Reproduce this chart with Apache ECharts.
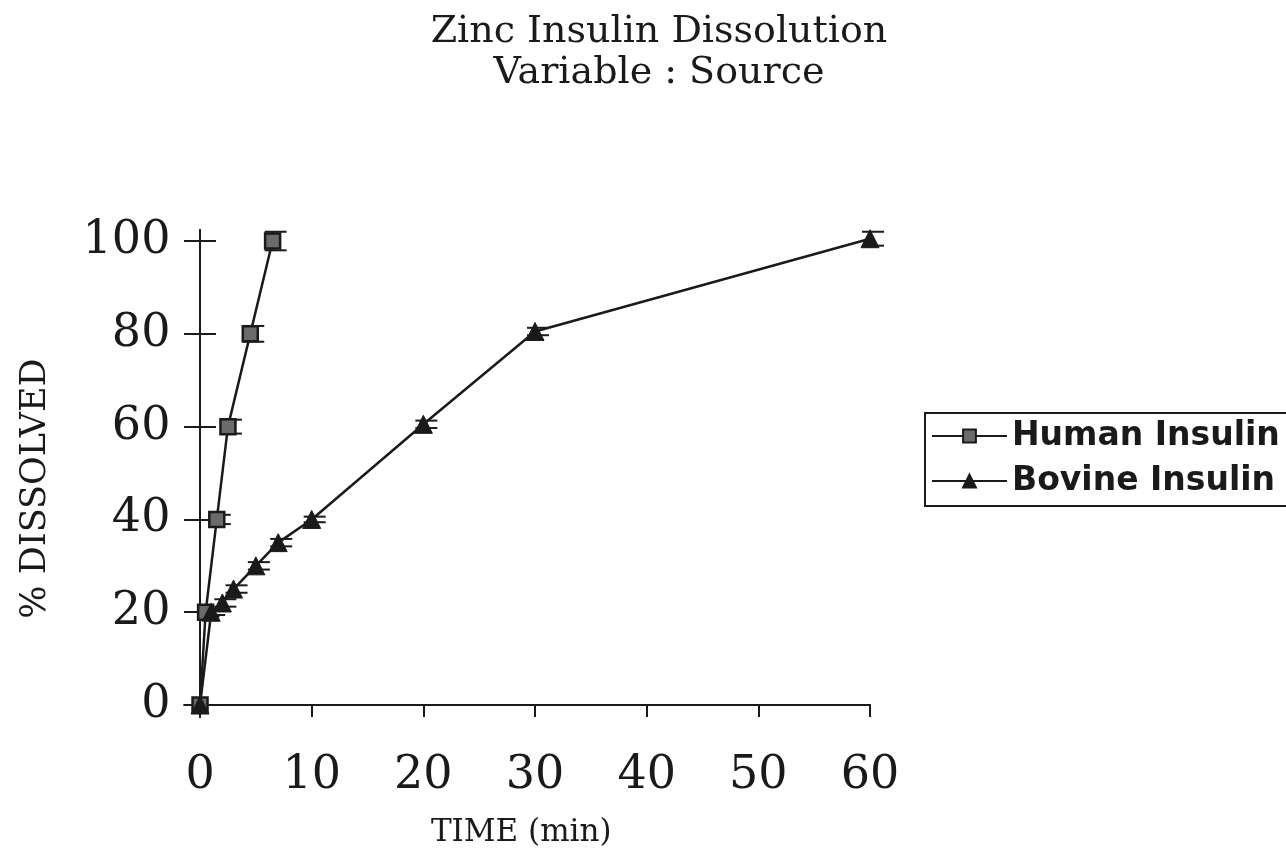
<!DOCTYPE html>
<html>
<head>
<meta charset="utf-8">
<script src="https://cdn.jsdelivr.net/npm/echarts@6/dist/echarts.min.js"></script>
<style>html,body{margin:0;padding:0;background:#fff}#c{width:1286px;height:852px}</style>
</head>
<body>
<div id="c"></div>
<script>
// Data
const humanTime = [0, 0.5, 1.5, 2.5, 4.5, 6.5];
const humanDissolved = [0, 20, 40, 60, 80, 100];
const humanError = [0, 0.8, 1, 1.5, 1.7, 2];

const bovineTime = [0, 1, 2, 3, 5, 7, 10, 20, 30, 60];
const bovineDissolved = [0, 20, 22, 25, 30, 35, 40, 60.5, 80.5, 100.5];
const bovineError = [0, 0.6, 0.8, 0.8, 0.8, 0.8, 0.6, 0.8, 0.8, 1.5];

const xTicks = [0, 10, 20, 30, 40, 50, 60];
const yTicks = [0, 20, 40, 60, 80, 100];

const seriesNames = ['Human Insulin', 'Bovine Insulin'];
const titleLines = ['Zinc Insulin Dissolution', 'Variable : Source'];
const xName = 'TIME (min)';
const yName = '% DISSOLVED';

const ink = '#1a1a1a';
const serif = 'DejaVu Serif';

function pairs(xs, ys) { return xs.map((x, i) => [x, ys[i]]); }
function triples(xs, ys, es) { return xs.map((x, i) => [x, ys[i], es[i]]); }

function errRender(params, api) {
  const x = api.value(0), y = api.value(1), e = api.value(2);
  if (!e) return null;
  const top = api.coord([x, y + e]);
  const bot = api.coord([x, y - e]);
  const hw = 11;
  const st = { stroke: ink, lineWidth: 2 };
  return {
    type: 'group',
    children: [
      { type: 'line', shape: { x1: top[0], y1: top[1], x2: bot[0], y2: bot[1] }, style: st },
      { type: 'line', shape: { x1: top[0] - hw + 3, y1: top[1], x2: top[0] + hw + 3, y2: top[1] }, style: st },
      { type: 'line', shape: { x1: bot[0] - hw + 3, y1: bot[1], x2: bot[0] + hw + 3, y2: bot[1] }, style: st }
    ]
  };
}

const xAxisBase = {
  type: 'value', min: -1.4, max: 60,
  splitLine: { show: false },
  axisLine: { onZero: true, lineStyle: { color: ink, width: 2 } }
};
const yAxisBase = {
  type: 'value', min: -2.6, max: 102.4,
  splitLine: { show: false },
  axisLine: { onZero: true, lineStyle: { color: ink, width: 2 } }
};

const chart = echarts.init(document.getElementById('c'), null, { renderer: 'canvas' });
chart.setOption({
  backgroundColor: '#ffffff',
  animation: false,
  title: [
    { text: titleLines[0], left: 654, top: 8, textAlign: 'center',
      textStyle: { fontFamily: serif, fontSize: 38, fontWeight: 'normal', color: ink } },
    { text: titleLines[1], left: 654, top: 49, textAlign: 'center',
      textStyle: { fontFamily: serif, fontSize: 38, fontWeight: 'normal', color: ink } }
  ],
  grid: { left: 184.4, right: 416, top: 229.9, bottom: 134.9, containLabel: false, outerBoundsMode: 'none' },
  legend: {
    data: seriesNames,
    orient: 'vertical',
    left: 925, top: 413,
    padding: [4, 30, 6, 6],
    itemGap: 7,
    itemWidth: 75,
    itemHeight: 16,
    borderColor: ink, borderWidth: 2,
    textStyle: { fontFamily: 'DejaVu Sans', fontWeight: 'bold', fontSize: 33, color: ink, lineHeight: 38 }
  },
  xAxis: [
    Object.assign({}, xAxisBase, {
      name: xName, nameLocation: 'middle', nameGap: 100,
      nameTextStyle: { fontFamily: serif, fontSize: 31, color: ink, padding: [0, 12, 0, 0] },
      axisTick: { show: true, length: 12, customValues: xTicks, lineStyle: { color: ink, width: 2 } },
      axisLabel: { customValues: xTicks, margin: 36, fontFamily: serif, fontSize: 46, color: ink }
    }),
    Object.assign({}, xAxisBase, {
      axisTick: { show: true, inside: true, length: 12, customValues: xTicks, lineStyle: { color: ink, width: 2 } },
      axisLabel: { show: false }
    })
  ],
  yAxis: [
    Object.assign({}, yAxisBase, {
      name: yName, nameLocation: 'middle', nameRotate: 90, nameGap: 131,
      nameTextStyle: { fontFamily: serif, fontSize: 35, color: ink, padding: [0, 30, 0, 0] },
      axisTick: { show: true, length: 16, customValues: yTicks, lineStyle: { color: ink, width: 2 } },
      axisLabel: { customValues: yTicks, margin: 14, fontFamily: serif, fontSize: 46, color: ink }
    }),
    Object.assign({}, yAxisBase, {
      position: 'left',
      axisTick: { show: true, inside: true, length: 16, customValues: yTicks, lineStyle: { color: ink, width: 2 } },
      axisLabel: { show: false }
    })
  ],
  series: [
    {
      type: 'custom', renderItem: errRender, silent: true, z: 1,
      data: triples(humanTime, humanDissolved, humanError)
    },
    {
      type: 'custom', renderItem: errRender, silent: true, z: 1,
      data: triples(bovineTime, bovineDissolved, bovineError)
    },
    {
      name: seriesNames[0], type: 'line', z: 3,
      data: pairs(humanTime, humanDissolved),
      symbol: 'rect', symbolSize: 15,
      lineStyle: { color: ink, width: 2.5 },
      itemStyle: { color: '#6b6b6b', borderColor: ink, borderWidth: 2.5 }
    },
    {
      name: seriesNames[1], type: 'line', z: 4,
      data: pairs(bovineTime, bovineDissolved),
      symbol: 'triangle', symbolSize: 18,
      lineStyle: { color: ink, width: 2.5 },
      itemStyle: { color: ink, borderColor: ink, borderWidth: 1 }
    }
  ]
});
</script>
</body>
</html>
